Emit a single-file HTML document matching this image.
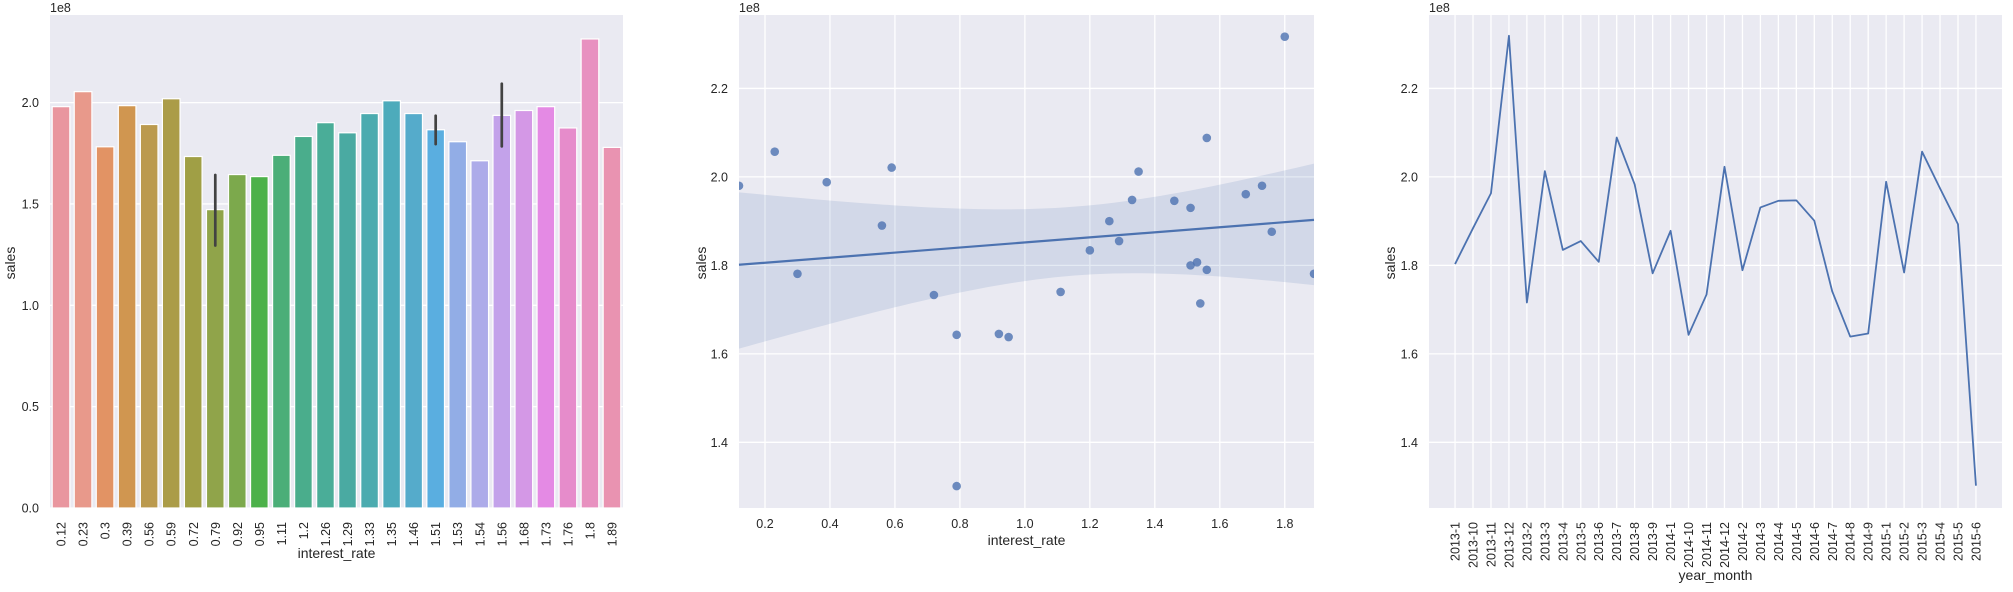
<!DOCTYPE html>
<html><head><meta charset="utf-8">
<style>
html,body{margin:0;padding:0;background:#fff;}
svg{display:block;font-family:"Liberation Sans","DejaVu Sans",sans-serif;}
text{fill:#262626;}
</style></head>
<body>
<svg id="fig" width="2013" height="592" viewBox="0 0 2013 592" xmlns="http://www.w3.org/2000/svg"></svg>
<script>
// ---- Chart 1: bar chart data ----
const barCats = ["0.12","0.23","0.3","0.39","0.56","0.59","0.72","0.79","0.92","0.95","1.11","1.2","1.26","1.29","1.33","1.35","1.46","1.51","1.53","1.54","1.56","1.68","1.73","1.76","1.8","1.89"];
const barValues = [1.98,2.054,1.782,1.985,1.892,2.019,1.734,1.472,1.645,1.635,1.740,1.833,1.901,1.851,1.946,2.009,1.946,1.866,1.807,1.713,1.937,1.961,1.98,1.875,2.314,1.779];
const barErrLow = [null,null,null,null,null,null,null,1.295,null,null,null,null,null,null,null,null,null,1.795,null,null,1.784,null,null,null,null,null];
const barErrHigh = [null,null,null,null,null,null,null,1.643,null,null,null,null,null,null,null,null,null,1.935,null,null,2.093,null,null,null,null,null];
const barColors = ["#e9969f","#e8998b","#e29364","#d09650","#bb9a4e","#ab9c48","#a09f45","#90a44a","#7ca94c","#4cb14a","#4bae78","#4aad8c","#4aad98","#4aaaa2","#4babaf","#4dabbb","#55abcb","#5aaee0","#92ade6","#adabe9","#c3a2ea","#d498e6","#e48ae4","#e68ccb","#e891c0","#e993b1"];
const barYTicks = [0.0,0.5,1.0,1.5,2.0];
const barYTickLabels = ["0.0","0.5","1.0","1.5","2.0"];

// ---- Chart 2: scatter + regression data ----
const scatX = [0.12,0.23,0.3,0.39,0.56,0.59,0.72,0.79,0.79,0.92,0.95,1.11,1.2,1.26,1.29,1.33,1.35,1.46,1.51,1.51,1.53,1.54,1.56,1.56,1.68,1.73,1.76,1.8,1.89];
const scatY = [1.98,2.057,1.781,1.988,1.89,2.021,1.733,1.643,1.301,1.645,1.638,1.74,1.834,1.9,1.855,1.948,2.012,1.946,1.93,1.8,1.807,1.714,2.088,1.79,1.961,1.98,1.876,2.317,1.781];
const scatXTicks = [0.2,0.4,0.6,0.8,1.0,1.2,1.4,1.6,1.8];
const scatXTickLabels = ["0.2","0.4","0.6","0.8","1.0","1.2","1.4","1.6","1.8"];
const salesYTicks = [1.4,1.6,1.8,2.0,2.2];
const salesYTickLabels = ["1.4","1.6","1.8","2.0","2.2"];

// ---- Chart 3: line chart data ----
const months = ["2013-1","2013-10","2013-11","2013-12","2013-2","2013-3","2013-4","2013-5","2013-6","2013-7","2013-8","2013-9","2014-1","2014-10","2014-11","2014-12","2014-2","2014-3","2014-4","2014-5","2014-6","2014-7","2014-8","2014-9","2015-1","2015-2","2015-3","2015-4","2015-5","2015-6"];
const monthSales = [1.803,1.884,1.963,2.319,1.716,2.013,1.835,1.855,1.808,2.089,1.983,1.782,1.878,1.643,1.734,2.023,1.789,1.931,1.946,1.947,1.901,1.741,1.639,1.646,1.989,1.784,2.057,1.974,1.893,1.302];

const NS = "http://www.w3.org/2000/svg";
const fig = document.getElementById('fig');
function mk(tag, attrs, parent){
  const e = document.createElementNS(NS, tag);
  for (const k in attrs) e.setAttribute(k, attrs[k]);
  (parent||fig).appendChild(e);
  return e;
}
const BG = "#eaeaf2";
const TOP = 15, BOT = 508;

function axesBg(name, x0, x1){
  const g = mk('g', {});
  
  
  const r = mk('rect', {x:x0, y:TOP, width:x1-x0, height:BOT-TOP, fill:BG}, g);
  
  
  return g;
}
function hGrid(g, x0, x1, y){ mk('line',{x1:x0,x2:x1,y1:y,y2:y,stroke:'#fff','stroke-width':1.3},g); }
function vGrid(g, x){ mk('line',{x1:x,x2:x,y1:TOP,y2:BOT,stroke:'#fff','stroke-width':1.3},g); }
function txt(g, s, attrs, name){
  const t = mk('text', attrs, g);
  t.textContent = s;
  
  
  return t;
}

// ================= Chart 1 =================
(function(){
  const x0 = 50, x1 = 623;
  const yS = v => BOT - v * 202.7;
  const step = (x1-x0)/barCats.length;
  const xC = i => x0 + step*(i+0.5);
  const g = axesBg('bar-chart', x0, x1);
  barYTicks.forEach((v,i)=>{
    hGrid(g, x0, x1, yS(v));
    txt(g, barYTickLabels[i], {x:x0-11, y:yS(v)+4.5, 'text-anchor':'end', 'font-size':12.5}, 'y-tick-label');
  });
  barValues.forEach((v,i)=>{
    const w = step*0.8;
    const r = mk('rect',{x:xC(i)-w/2, y:yS(v), width:w, height:yS(0)-yS(v), fill:barColors[i], stroke:'#fff','stroke-width':1.2}, g);
    
    
    if (barErrLow[i] !== null){
      const l = mk('line',{x1:xC(i),x2:xC(i),y1:yS(barErrLow[i]),y2:yS(barErrHigh[i]),stroke:'#424242','stroke-width':2.7,'stroke-linecap':'round'}, g);
      
      
    }
    txt(g, barCats[i], {x:0, y:0, 'text-anchor':'end', 'font-size':12.5, transform:`translate(${xC(i)+4.5},${BOT+14}) rotate(-90)`}, 'x-tick-label');
  });
  txt(g, '1e8', {x:x0, y:12, 'font-size':12.5}, 'y-offset-label');
  txt(g, 'sales', {x:0,y:0,'text-anchor':'middle','font-size':14, transform:`translate(${x0-35},263) rotate(-90)`}, 'y-axis-title');
  txt(g, 'interest_rate', {x:(x0+x1)/2, y:558, 'text-anchor':'middle','font-size':14}, 'x-axis-title');
})();

// ================= Chart 2 =================
(function(){
  const x0 = 739, x1 = 1314;
  const xmin = 0.12, xmax = 1.89, ymin = 1.2515, ymax = 2.366;
  const xS = v => x0 + (v-xmin)/(xmax-xmin)*(x1-x0);
  const yS = v => BOT - (v-ymin)/(ymax-ymin)*(BOT-TOP);
  const g = axesBg('scatter-chart', x0, x1);
  const cp = mk('clipPath',{id:'clip2'}, g);
  mk('rect',{x:x0,y:TOP,width:x1-x0,height:BOT-TOP},cp);
  salesYTicks.forEach((v,i)=>{
    hGrid(g, x0, x1, yS(v));
    txt(g, salesYTickLabels[i], {x:x0-11, y:yS(v)+4.5, 'text-anchor':'end','font-size':12.5}, 'y-tick-label');
  });
  scatXTicks.forEach((v,i)=>{
    vGrid(g, xS(v));
    txt(g, scatXTickLabels[i], {x:xS(v), y:BOT+20, 'text-anchor':'middle','font-size':12.5}, 'x-tick-label');
  });
  // OLS regression + 95% CI
  const n = scatX.length;
  const mx = scatX.reduce((a,b)=>a+b,0)/n, my = scatY.reduce((a,b)=>a+b,0)/n;
  let sxx=0, sxy=0;
  for (let i=0;i<n;i++){ sxx += (scatX[i]-mx)**2; sxy += (scatX[i]-mx)*(scatY[i]-my); }
  const b = sxy/sxx, a = my - b*mx;
  let sse = 0;
  for (let i=0;i<n;i++){ sse += (scatY[i]-(a+b*scatX[i]))**2; }
  const s = Math.sqrt(sse/(n-2)), tq = 2.2;
  const N = 60, up = [], lo = [];
  for (let k=0;k<=N;k++){
    const x = xmin + (xmax-xmin)*k/N;
    const yh = a + b*x;
    const h = tq*s*Math.sqrt(1/n + (x-mx)**2/sxx);
    up.push([xS(x), yS(yh+h*0.95)]); lo.push([xS(x), yS(yh-h*1.1)]);
  }
  const pts = up.concat(lo.reverse()).map(p=>p.join(',')).join(' ');
  const band = mk('polygon',{points:pts, fill:'#4c72b0','fill-opacity':0.15,'clip-path':'url(#clip2)'}, g);
  
  
  scatX.forEach((x,i)=>{
    const c = mk('circle',{cx:xS(x), cy:yS(scatY[i]), r:4.3, fill:'#4c72b0','fill-opacity':0.8,'clip-path':'url(#clip2)'}, g);
    
    
  });
  const rl = mk('line',{x1:xS(xmin), y1:yS(a+b*xmin), x2:xS(xmax), y2:yS(a+b*xmax), stroke:'#4c72b0','stroke-width':2.2}, g);
  
  
  txt(g, '1e8', {x:x0, y:12, 'font-size':12.5}, 'y-offset-label');
  txt(g, 'sales', {x:0,y:0,'text-anchor':'middle','font-size':14, transform:`translate(${x0-33},263) rotate(-90)`}, 'y-axis-title');
  txt(g, 'interest_rate', {x:(x0+x1)/2, y:545, 'text-anchor':'middle','font-size':14}, 'x-axis-title');
})();

// ================= Chart 3 =================
(function(){
  const x0 = 1429, x1 = 2002;
  const ymin = 1.2515, ymax = 2.366;
  const n = months.length;
  const lo = -1.45, hi = (n-1)+1.45;
  const xS = i => x0 + (i-lo)/(hi-lo)*(x1-x0);
  const yS = v => BOT - (v-ymin)/(ymax-ymin)*(BOT-TOP);
  const g = axesBg('line-chart', x0, x1);
  salesYTicks.forEach((v,i)=>{
    hGrid(g, x0, x1, yS(v));
    txt(g, salesYTickLabels[i], {x:x0-11, y:yS(v)+4.5, 'text-anchor':'end','font-size':12.5}, 'y-tick-label');
  });
  months.forEach((m,i)=>{
    vGrid(g, xS(i));
    txt(g, m, {x:0,y:0,'text-anchor':'end','font-size':12.5, transform:`translate(${xS(i)+4.5},${BOT+14}) rotate(-90)`}, 'x-tick-label');
  });
  const d = monthSales.map((v,i)=>(i?'L':'M')+xS(i).toFixed(2)+','+yS(v).toFixed(2)).join(' ');
  const p = mk('path',{d:d, fill:'none', stroke:'#4c72b0','stroke-width':1.8,'stroke-linejoin':'round'}, g);
  
  
  txt(g, '1e8', {x:x0, y:12, 'font-size':12.5}, 'y-offset-label');
  txt(g, 'sales', {x:0,y:0,'text-anchor':'middle','font-size':14, transform:`translate(${x0-34},263) rotate(-90)`}, 'y-axis-title');
  txt(g, 'year_month', {x:(x0+x1)/2, y:580, 'text-anchor':'middle','font-size':14}, 'x-axis-title');
})();
</script>
</body></html>
